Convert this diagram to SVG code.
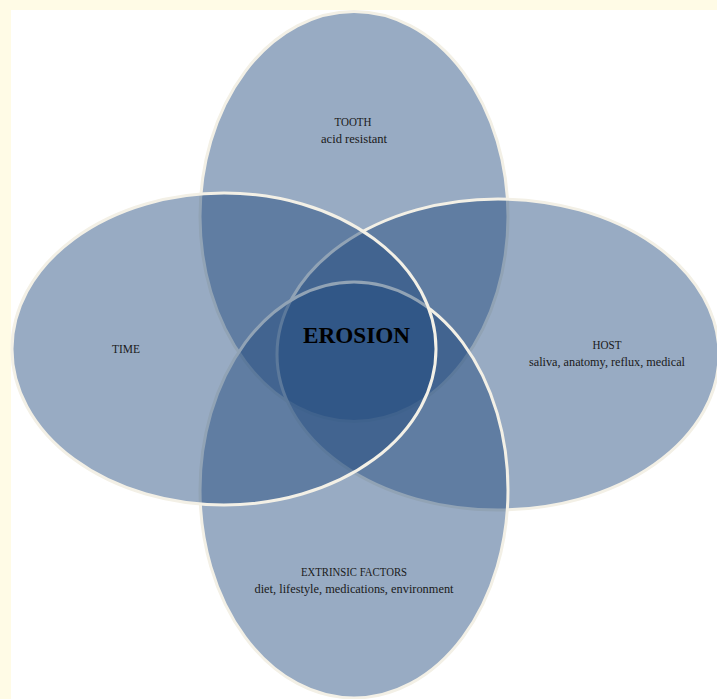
<svg xmlns="http://www.w3.org/2000/svg" width="717" height="699" viewBox="0 0 717 699">
  <style>
    .set { fill: #1f497d; fill-opacity: 0.46; stroke: #f3f0e6; stroke-width: 3; }
    .lbl { font-family: "Liberation Serif", "DejaVu Serif", serif; font-size: 12px; fill: #1a1a1a; text-anchor: middle; }
    .main { font-family: "Liberation Serif", "DejaVu Serif", serif; font-size: 24px; font-weight: bold; fill: #000; text-anchor: middle; }
  </style>
  <rect x="0" y="0" width="717" height="699" fill="#fffbe6"/>
  <rect x="11" y="10" width="706" height="689" fill="#ffffff"/>
  <g id="tooth">
    <ellipse class="set" cx="354" cy="216.5" rx="154" ry="205"/>
  </g>
  <g id="host">
    <ellipse class="set" cx="498" cy="354.5" rx="221" ry="155.5"/>
  </g>
  <g id="extrinsic">
    <ellipse class="set" cx="354" cy="490" rx="154" ry="208"/>
  </g>
  <g id="time">
    <ellipse class="set" cx="224" cy="349" rx="212" ry="156"/>
  </g>
  <g id="labels">
    <text class="lbl" x="353" y="126" textLength="37" lengthAdjust="spacingAndGlyphs">TOOTH</text>
    <text class="lbl" x="354" y="143" textLength="66" lengthAdjust="spacingAndGlyphs">acid resistant</text>
    <text class="lbl" x="126" y="353" textLength="28" lengthAdjust="spacingAndGlyphs">TIME</text>
    <text class="lbl" x="607" y="349" textLength="29" lengthAdjust="spacingAndGlyphs">HOST</text>
    <text class="lbl" x="607" y="366" textLength="156" lengthAdjust="spacingAndGlyphs">saliva, anatomy, reflux, medical</text>
    <text class="lbl" x="354" y="576" textLength="106" lengthAdjust="spacingAndGlyphs">EXTRINSIC FACTORS</text>
    <text class="lbl" x="354" y="593" textLength="199" lengthAdjust="spacingAndGlyphs">diet, lifestyle, medications, environment</text>
    <text class="main" x="356.5" y="343" textLength="107" lengthAdjust="spacingAndGlyphs">EROSION</text>
  </g>
</svg>
